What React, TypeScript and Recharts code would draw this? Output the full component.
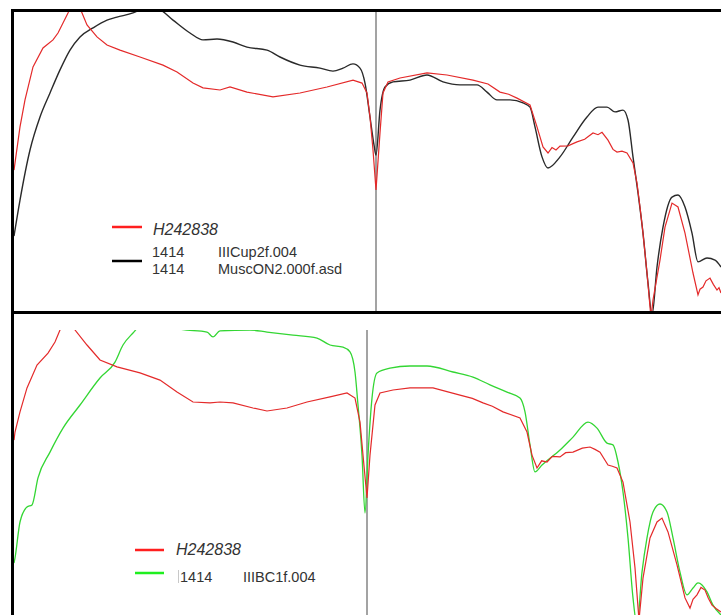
import React from "react";
import { LineChart, Line, XAxis, YAxis, ReferenceLine } from "recharts";

// Wavelength (nm) / relative reflectance pairs.
// Upper panel: sample H242838 against reference muscovite spectra.
const upperSample: [number, number][] = [
  [328, 47.3], [331, 49.7], [346, 61.7], [361, 70.7], [385, 81.7], [415, 88], [445, 90.7],
  [460, 93], [475, 96.3], [490, 99.7], [496, 101.3], [511, 103], [526, 101.3], [547, 95.7],
  [577, 91.7], [607, 89], [646, 87.3], [706, 85], [775, 82.3], [817, 80], [865, 76.3],
  [895, 74.7], [946, 74], [976, 75], [1027, 73.3], [1105, 71.7], [1186, 73], [1267, 75],
  [1345, 77.3], [1372, 76.3], [1387, 73], [1396, 65], [1405, 54], [1414, 40.7], [1426, 59.7],
  [1435, 73], [1450, 76.7], [1486, 78], [1567, 79.7], [1627, 79], [1705, 77.3], [1750, 76],
  [1786, 73.3], [1812, 72.6], [1837, 71.3], [1876, 69], [1897, 61.7], [1915, 55], [1930, 53],
  [1942, 54.8], [1954, 54], [1966, 55.3], [1990, 55.4], [2017, 56.7], [2040, 57.6],
  [2065, 59.7], [2080, 59.1], [2092, 59.9], [2110, 57.3], [2125, 54.2], [2137, 53.3],
  [2152, 53.6], [2167, 53], [2185, 49.7], [2197, 43], [2206, 35], [2215, 26.3], [2227, 13],
  [2239, -2], [2245, 4], [2266, 17.3], [2281, 28.3], [2302, 36.3], [2320, 35], [2341, 26.3],
  [2365, 13], [2380, 5.7], [2386, 7.6], [2395, 8.3], [2404, 10.4], [2416, 11.3], [2426, 9.2],
  [2437, 7.3], [2443, 8.1], [2449, 6.3],
];

const upperReference: [number, number][] = [
  [328, 25.3], [346, 37.3], [376, 54], [406, 65], [436, 73], [466, 80.7], [496, 87.3],
  [526, 91.7], [565, 94.7], [607, 97.3], [637, 98.3], [685, 99.7], [706, 100.7], [736, 101.3],
  [766, 100.7], [805, 97.3], [856, 93], [895, 90.7], [937, 91], [985, 90], [1027, 88.3],
  [1087, 87.3], [1126, 85], [1186, 82.3], [1246, 81.3], [1285, 80.3], [1315, 81.3],
  [1345, 82.7], [1366, 81.3], [1381, 76.3], [1396, 65], [1408, 55.7], [1414, 52.3],
  [1426, 67.3], [1441, 75], [1465, 76.7], [1516, 77.3], [1567, 79], [1615, 76.7], [1666, 75.7],
  [1717, 75.7], [1747, 73.3], [1777, 70.7], [1816, 70.7], [1855, 69.7], [1876, 68.3],
  [1891, 61.7], [1912, 51.7], [1930, 48], [1966, 51.7], [2005, 58.3], [2047, 65], [2080, 68.3],
  [2107, 68.3], [2131, 66.7], [2155, 67.3], [2170, 64], [2185, 51.7], [2200, 39.7],
  [2215, 26.3], [2230, 9.7], [2242, -1], [2257, 15], [2275, 28.3], [2302, 38.3], [2320, 39],
  [2341, 35], [2362, 26.3], [2380, 16.7], [2407, 18], [2431, 17.3], [2449, 15],
];

// Lower panel: sample H242838 against reference IIIBC1f.004.
const lowerSample: [number, number][] = [
  [355, 63.3], [358, 66], [373, 72.7], [394, 80.7], [424, 88.3], [457, 92.3], [478, 96],
  [493, 100], [514, 104], [538, 100], [574, 95], [613, 90], [664, 87.7], [733, 85.7],
  [793, 83.3], [844, 79.3], [892, 76], [943, 75.7], [973, 76], [1012, 75.7], [1072, 74],
  [1114, 73], [1174, 74], [1234, 76], [1303, 77.7], [1354, 79], [1378, 77.3], [1393, 69.3],
  [1402, 58.3], [1414, 44], [1423, 58.3], [1438, 75], [1453, 79], [1492, 80], [1543, 80.7],
  [1612, 80.7], [1693, 78.3], [1730, 77.2], [1762, 75.7], [1790, 74.6], [1822, 72.7],
  [1873, 70.7], [1894, 66], [1909, 58.3], [1924, 54], [1938, 56.4], [1954, 56], [1970, 57.9],
  [1993, 57.7], [2010, 59.1], [2032, 59.3], [2060, 60.6], [2083, 61], [2098, 60.2],
  [2113, 59.3], [2137, 55], [2150, 54.6], [2164, 54], [2182, 49.3], [2203, 36], [2218, 20.7],
  [2230, 3.3], [2242, 17.3], [2263, 30.7], [2284, 36], [2299, 37.3], [2317, 32.7], [2344, 21.7],
  [2368, 10.7], [2383, 7.3], [2392, 10.2], [2404, 11.7], [2416, 14.2], [2428, 13.3],
  [2438, 10.6], [2449, 8.3], [2461, 7.2], [2476, 6],
];

const lowerReference: [number, number][] = [
  [355, 22.3], [358, 24], [373, 36], [394, 41], [409, 41.7], [427, 50.7], [463, 59.3],
  [502, 67.3], [553, 75], [613, 84], [658, 89.3], [682, 95], [712, 99], [733, 101.3],
  [793, 102.7], [853, 100.3], [934, 99.3], [952, 97.7], [973, 99.7], [1063, 100], [1114, 99.3],
  [1192, 98.3], [1264, 97.3], [1303, 95], [1342, 94.3], [1363, 92.7], [1378, 86], [1387, 75],
  [1399, 58.3], [1408, 39], [1417, 58.3], [1429, 77.3], [1444, 85.7], [1483, 87.3],
  [1543, 88], [1594, 88], [1672, 86], [1732, 84.3], [1783, 81.7], [1834, 79.3], [1873, 77.3],
  [1888, 72.7], [1903, 61.7], [1918, 52.7], [1939, 55], [1993, 60], [2032, 64.3], [2077, 69.3],
  [2104, 67.3], [2134, 62.3], [2152, 61.7], [2167, 56], [2182, 46], [2197, 30.7], [2212, 10.7],
  [2224, 1.7], [2239, 19.3], [2254, 30.7], [2272, 39.3], [2293, 42], [2314, 39.3], [2332, 30.7],
  [2353, 19.3], [2374, 11.7], [2392, 14], [2407, 15.7], [2434, 12.7], [2452, 8.3], [2476, 5],
];

const markerWavelength = 1414;
const upperDomain: [number, number] = [328, 2449];
const lowerDomain: [number, number] = [355, 2476];

const toRows = (pairs: [number, number][]) => pairs.map(([nm, r]) => ({ nm, r }));

const RED = "#e42a2a";
const BLACK = "#2a2a2a";
const GREEN = "#33d633";
const GUIDE = "#a3a3a3";
const TEXT = "#333";

export default function App() {
  return (
    <div
      style={{
        position: "absolute",
        left: 0,
        top: 0,
        width: 721,
        height: 615,
        overflow: "hidden",
        background: "#fff",
      }}
    >
      <div style={{ position: "absolute", left: 0, top: 0 }}>
        <LineChart width={721} height={312} margin={{ top: 12, right: 0, bottom: 0, left: 14 }}>
          <XAxis type="number" dataKey="nm" domain={upperDomain} allowDataOverflow hide />
          <YAxis type="number" domain={[0, 100]} allowDataOverflow hide />
          <ReferenceLine x={markerWavelength} stroke={GUIDE} strokeWidth={2} />
          <Line
            data={toRows(upperReference)}
            dataKey="r"
            stroke={BLACK}
            strokeWidth={1.4}
            dot={false}
            type="monotone"
            isAnimationActive={false}
          />
          <Line
            data={toRows(upperSample)}
            dataKey="r"
            stroke={RED}
            strokeWidth={1.2}
            dot={false}
            type="linear"
            isAnimationActive={false}
          />
        </LineChart>
      </div>

      <div style={{ position: "absolute", left: 0, top: 312 }}>
        <LineChart width={721} height={303} margin={{ top: 18, right: 0, bottom: 0, left: 14 }}>
          <XAxis type="number" dataKey="nm" domain={lowerDomain} allowDataOverflow hide />
          <YAxis type="number" domain={[5, 100]} allowDataOverflow hide />
          <ReferenceLine x={markerWavelength} stroke={GUIDE} strokeWidth={2} />
          <Line
            data={toRows(lowerReference)}
            dataKey="r"
            stroke={GREEN}
            strokeWidth={1.3}
            dot={false}
            type="monotone"
            isAnimationActive={false}
          />
          <Line
            data={toRows(lowerSample)}
            dataKey="r"
            stroke={RED}
            strokeWidth={1.2}
            dot={false}
            type="linear"
            isAnimationActive={false}
          />
        </LineChart>
      </div>

      {/* panel frames and legends */}
      <svg
        width={721}
        height={615}
        style={{ position: "absolute", left: 0, top: 0, pointerEvents: "none" }}
        fontFamily="'Liberation Sans', Arial, sans-serif"
      >
        <rect x={11} y={9} width={710} height={3} fill="#000" />
        <rect x={11} y={9} width={3} height={606} fill="#000" />
        <rect x={11} y={311} width={710} height={3} fill="#000" />

        <line x1={112} x2={142} y1={227} y2={227} stroke="#ff1f1f" strokeWidth={2.5} />
        <text x={153} y={235} fontSize={16} fontStyle="italic" fill={TEXT}>H242838</text>
        <line x1={112} x2={142} y1={261} y2={261} stroke="#000" strokeWidth={2.5} />
        <text x={152} y={257} fontSize={14.5} fill={TEXT}>1414</text>
        <text x={218} y={257} fontSize={14.5} fill={TEXT}>IIICup2f.004</text>
        <text x={152} y={274} fontSize={14.5} fill={TEXT}>1414</text>
        <text x={218} y={274} fontSize={14.5} fill={TEXT}>MuscON2.000f.asd</text>

        <line x1={135} x2={164} y1={550} y2={550} stroke="#ff1f1f" strokeWidth={2.5} />
        <text x={176} y={555} fontSize={16} fontStyle="italic" fill={TEXT}>H242838</text>
        <line x1={135} x2={164} y1={573} y2={573} stroke="#1fef1f" strokeWidth={2.5} />
        <line x1={178.5} x2={178.5} y1={570} y2={583} stroke="#c8c8c8" strokeWidth={1} />
        <text x={180} y={582} fontSize={14.5} fill={TEXT}>1414</text>
        <text x={243} y={582} fontSize={14.5} fill={TEXT}>IIIBC1f.004</text>
      </svg>
    </div>
  );
}
